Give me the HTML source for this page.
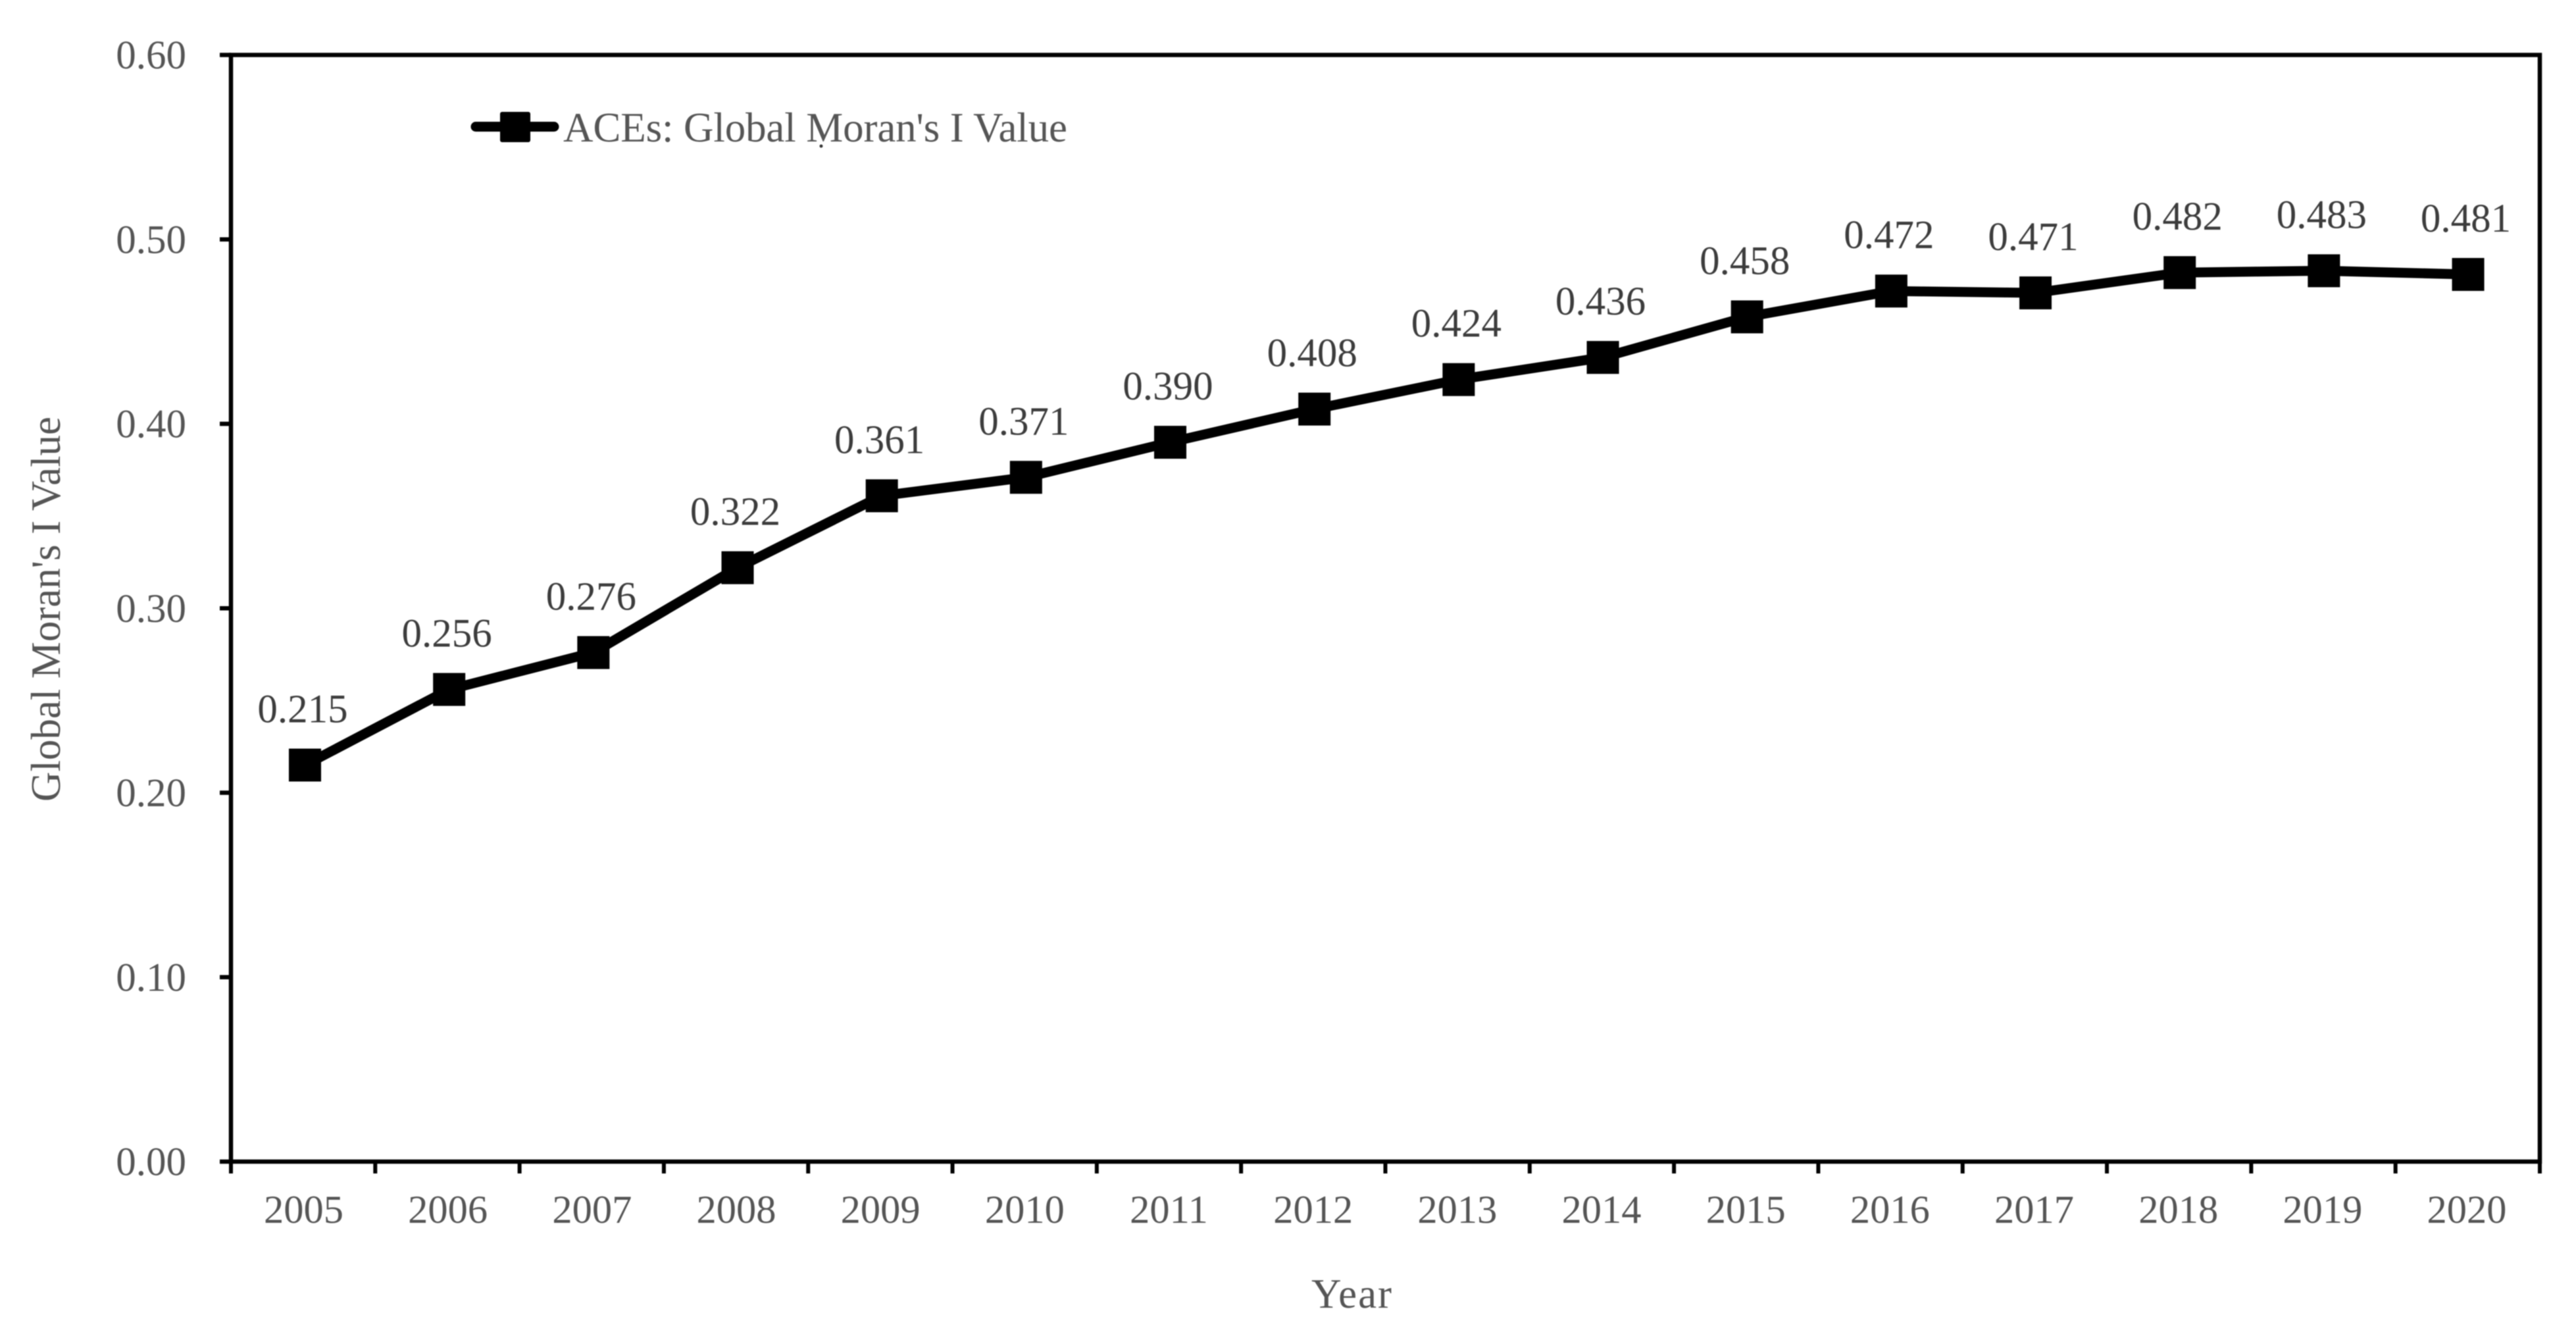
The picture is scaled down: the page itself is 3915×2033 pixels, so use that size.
<!DOCTYPE html>
<html lang="en">
<head>
<meta charset="utf-8">
<title>ACEs: Global Moran's I Value</title>
<style>
  html, body { margin: 0; padding: 0; background: #ffffff; }
  body { width: 3915px; height: 2033px; overflow: hidden; }
  svg { display: block; }
  text { font-family: "Liberation Serif", "Times New Roman", serif; }
  #chart { filter: blur(0.9px); }
</style>
</head>
<body>
<svg id="chart" xmlns="http://www.w3.org/2000/svg" width="3915" height="2033" viewBox="0 0 3915 2033">
  <rect x="0" y="0" width="3915" height="2033" fill="#ffffff"/>
  <g id="axes"></g>
  <g id="series"></g>
  <text transform="translate(91,1218) rotate(-90)" font-size="63" textLength="585" lengthAdjust="spacing" fill="#555555">Global Moran's I Value</text>
  <text x="1993" y="1987" font-size="63" textLength="122" lengthAdjust="spacing" fill="#555555">Year</text>
  <g>
    <line x1="723" y1="192.5" x2="842" y2="192.5" stroke="#000" stroke-width="15" stroke-linecap="round"/>
    <rect x="760" y="170" width="46" height="46" rx="3" fill="#000"/>
    <text x="856" y="215" font-size="63" textLength="766" lengthAdjust="spacing" fill="#555555">ACEs: Global Moran's I Value</text>
    <circle cx="1248" cy="222" r="2.5" fill="#333"/>
  </g>
</svg>
<script>
const years = ["2005","2006","2007","2008","2009","2010","2011","2012","2013","2014","2015","2016","2017","2018","2019","2020"];
const moranValues = [0.215,0.256,0.276,0.322,0.361,0.371,0.390,0.408,0.424,0.436,0.458,0.472,0.471,0.482,0.483,0.481];
const valueLabels = ["0.215","0.256","0.276","0.322","0.361","0.371","0.390","0.408","0.424","0.436","0.458","0.472","0.471","0.482","0.483","0.481"];
const yTicks = [0, 0.1, 0.2, 0.3, 0.4, 0.5, 0.6];
const yTickLabels = ["0.00","0.10","0.20","0.30","0.40","0.50","0.60"];

const NS = "http://www.w3.org/2000/svg";
const plotLeft = 351, plotRight = 3860, plotTop = 83.5, plotBottom = 1765;
const yMax = 0.6;
const firstCenter = 463.5, step = 219.17;

function xScale(i) { return firstCenter + step * i; }
function yScale(v) { return plotBottom - (v / yMax) * (plotBottom - plotTop); }

function make(tag, attrs, parent) {
  const el = document.createElementNS(NS, tag);
  for (const k in attrs) el.setAttribute(k, attrs[k]);
  parent.appendChild(el);
  return el;
}

const axes = document.getElementById("axes");
const series = document.getElementById("series");

const frame = make("rect", { x: plotLeft, y: plotTop, width: plotRight - plotLeft, height: plotBottom - plotTop, fill: "none", stroke: "#000", "stroke-width": 6.5 }, axes);



yTicks.forEach(function (t, i) {
  const y = yScale(t);
  const tick = make("line", { x1: 334, x2: plotLeft, y1: y, y2: y, stroke: "#000", "stroke-width": 6.5 }, axes);
  
  
  const label = make("text", { x: 283, y: y + 20.5, "text-anchor": "end", "font-size": 61, fill: "#555555" }, axes);
  
  
  label.textContent = yTickLabels[i];
});

for (let i = 0; i <= years.length; i++) {
  const x = plotLeft + (plotRight - plotLeft) * i / years.length;
  const tick = make("line", { x1: x, x2: x, y1: plotBottom, y2: 1783, stroke: "#000", "stroke-width": 6 }, axes);
  
  
}

years.forEach(function (yr, i) {
  const label = make("text", { x: xScale(i) - 2, y: 1858, "text-anchor": "middle", "font-size": 60.5, fill: "#555555" }, axes);
  
  
  label.textContent = yr;
});

const points = moranValues.map(function (v, i) { return xScale(i).toFixed(1) + "," + yScale(v).toFixed(1); }).join(" ");
const line = make("polyline", { points: points, fill: "none", stroke: "#000", "stroke-width": 15, "stroke-linejoin": "round" }, series);



moranValues.forEach(function (v, i) {
  const cx = xScale(i), cy = yScale(v);
  const marker = make("rect", { x: cx - 24.5, y: cy - 25, width: 49, height: 50, fill: "#000" }, series);
  
  
  const label = make("text", { x: cx - 3.5, y: cy - 65, "text-anchor": "middle", "font-size": 61, fill: "#3c3c3c" }, series);
  
  
  label.textContent = valueLabels[i];
});
</script>
</body>
</html>
